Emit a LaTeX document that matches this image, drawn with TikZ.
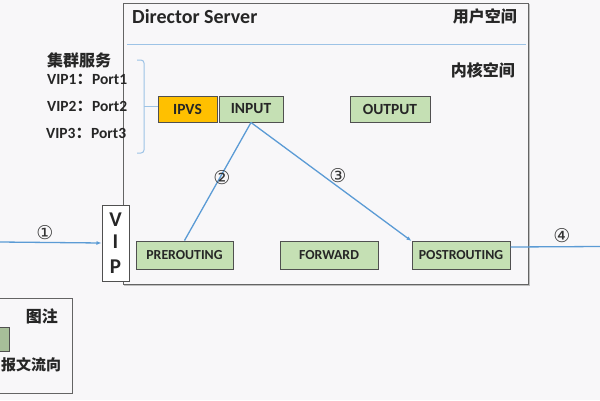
\documentclass[tikz,border=0pt]{standalone}
\usepackage{fontspec}
\setmainfont{Carlito}
\newfontfamily\cjk{Noto Sans CJK SC}
\newfontfamily\dv{DejaVu Sans}
\usetikzlibrary{arrows.meta}
\definecolor{bg}{RGB}{248,247,249}
\definecolor{gfill}{RGB}{197,224,180}
\definecolor{ofill}{RGB}{255,192,0}
\definecolor{bline}{RGB}{91,155,213}
\definecolor{lbline}{RGB}{157,195,230}
\definecolor{frame}{RGB}{100,100,100}
\tikzset{
  hook/.style={draw=frame!80!black, line width=1pt, minimum height=26pt, inner sep=0pt, font=\bfseries\fontsize{15.5}{15.5}\selectfont, text=black!85},
  greenbox/.style={hook, fill=gfill},
  smallhook/.style={greenbox, minimum height=28pt, font=\bfseries\fontsize{13.8}{13.8}\selectfont},
  flow/.style={draw=bline, line width=1.3pt},
  circnum/.style={font=\dv\fontsize{19}{19}\selectfont, text=black!80, inner sep=0pt},
  cjklabel/.style={font=\cjk\bfseries\fontsize{16}{16}\selectfont, text=black!85, inner sep=0pt},
  viplabel/.style={font=\bfseries\fontsize{15.5}{15.5}\selectfont, text=black!85, inner sep=0pt, anchor=west},
  vipletter/.style={font=\bfseries\fontsize{21}{21}\selectfont, text=black!85, inner sep=0pt}
}
\begin{document}
\begin{tikzpicture}[x=1pt,y=-1pt]
\fill[bg] (0,0) rectangle (600,400);
\useasboundingbox (0,0) rectangle (600,400);
% Director server frame
\draw[black!25, line width=1.5pt] (125,5) rectangle (529.5,285.5);
\draw[frame, line width=1pt, fill=bg] (123,3) rectangle (528,284);
\draw[lbline, line width=1pt] (127,44) -- (526,44);
\node[font=\bfseries\fontsize{20}{20}\selectfont, text=black!85, anchor=west, inner sep=0pt] (ds) at (132,17) {Director Server};
\node[cjklabel, anchor=east] (us) at (517,16) {用户空间};
\node[cjklabel, anchor=east] (ks) at (515,70) {内核空间};
% boxes
\node[hook, fill=ofill, minimum width=59pt] (ipvs) at (187.5,109) {IPVS};
\node[greenbox, minimum width=64pt] (input) at (251,109) {INPUT};
\node[greenbox, minimum width=80pt] (output) at (390,109) {OUTPUT};
\node[smallhook, minimum width=97pt] (pre) at (184.5,255) {PREROUTING};
\node[smallhook, minimum width=98pt] (fwd) at (329,255) {FORWARD};
\node[smallhook, minimum width=98pt] (post) at (461,255.5) {POSTROUTING};
% VIP box
\node[draw=frame!80!black, line width=1pt, fill=white, minimum width=27pt, minimum height=76pt, inner sep=0pt] (vip) at (115.5,243) {};
\node[vipletter] (vv) at (115.5,219.5) {V};
\node[vipletter] (vi) at (115.5,242) {I};
\node[vipletter] (vp) at (115.5,267) {P};
% cluster services
\node[cjklabel, anchor=west] (cs) at (47,60) {集群服务};
\node[viplabel] (v1) at (47,79) {VIP1{\cjk ：}Port1};
\node[viplabel] (v2) at (47,106) {VIP2{\cjk ：}Port2};
\node[viplabel] (v3) at (46,133) {VIP3{\cjk ：}Port3};
\draw[lbline, line width=1pt, rounded corners=3pt] (137,60) -- (144,60) -- (144,153) -- (137,153);
\coordinate (bt) at (144,106);
\draw[lbline, line width=1pt] (bt) -- ([yshift=3pt]ipvs.west);
% flows
\coordinate (inL) at (0,242);
\draw[flow, -{Latex[length=5pt,width=4pt]}] (inL) -- (vip.west);
\node[circnum] (c1) at (45,233) {①};
\draw[flow] (pre.north) -- (input.south);
\node[circnum] (c2) at (222,178) {②};
\draw[flow, -{Latex[length=5pt,width=4pt]}] (input.south) -- (post.north west);
\node[circnum] (c3) at (338,176) {③};
\coordinate (outR) at (600,246.5);
\draw[flow] ([yshift=8.5pt]post.east) -- (outR);
\node[circnum] (c4) at (562,236) {④};
% legend
\draw[frame, line width=1pt] (-1,298) rectangle (72,393);
\node[cjklabel, anchor=east] (lg) at (58,316) {图注};
\node[draw=frame!80!black, fill=gfill!85!black, line width=0.8pt, minimum width=12pt, minimum height=24pt, inner sep=0pt] (lgb) at (3.5,339.5) {};
\node[font=\cjk\bfseries\fontsize{15}{15}\selectfont, text=black!85, inner sep=0pt, anchor=west] (lgt) at (1,365) {报文流向};
\end{tikzpicture}
\end{document}
